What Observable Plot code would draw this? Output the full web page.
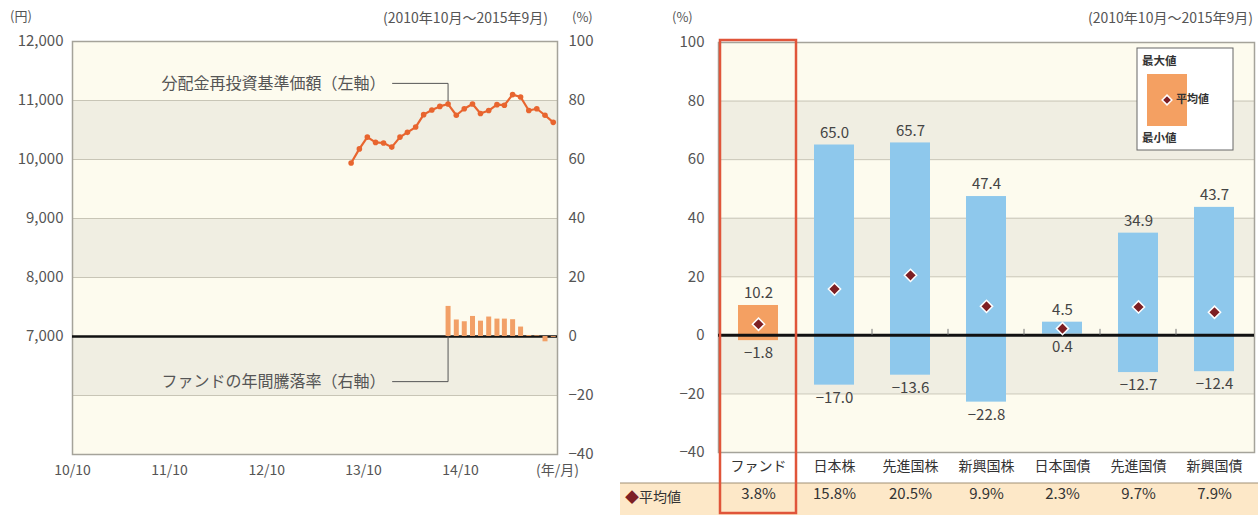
<!DOCTYPE html>
<html><head><meta charset="utf-8">
<script src="https://cdn.jsdelivr.net/npm/d3@7"></script>
<script src="https://cdn.jsdelivr.net/npm/@observablehq/plot@0.6"></script>
<style>
body{margin:0;background:#fff;font-family:"Noto Sans CJK JP","Noto Sans",sans-serif;}
#wrap{position:relative;width:1258px;height:515px;overflow:hidden;background:#fff;}
#left{position:absolute;left:0;top:0;}
#right{position:absolute;left:615px;top:0;}
.lbl{position:absolute;color:#555;font-size:14px;line-height:1;white-space:nowrap;}
</style></head><body><div id="wrap"><div id="left"></div><div id="right"></div>
<div class="lbl" style="left:10px;top:9px;font-size:13px;">(円)</div>
<div class="lbl" style="right:710px;top:10px;">(2010年10月～2015年9月)</div>
<div class="lbl" style="left:572px;top:10px;font-size:13px;">(%)</div>
<div class="lbl" style="left:672px;top:10px;font-size:13px;">(%)</div>
<div class="lbl" style="right:5px;top:10px;">(2010年10月～2015年9月)</div>
</div>
<script>
// ---------- data: left chart ----------
const navMonths = ["2013-08","2013-09","2013-10","2013-11","2013-12","2014-01","2014-02","2014-03","2014-04","2014-05","2014-06","2014-07","2014-08","2014-09","2014-10","2014-11","2014-12","2015-01","2015-02","2015-03","2015-04","2015-05","2015-06","2015-07","2015-08","2015-09"];
const navValues = [9940,10180,10380,10290,10280,10210,10380,10460,10550,10760,10840,10900,10940,10750,10860,10940,10780,10830,10930,10920,11100,11060,10830,10860,10750,10630];
const retMonths = ["2014-08","2014-09","2014-10","2014-11","2014-12","2015-01","2015-02","2015-03","2015-04","2015-05","2015-06","2015-07","2015-08","2015-09"];
const retValues = [10.2,5.6,5.0,6.8,5.2,6.6,5.9,5.9,5.7,3.2,0.3,0.2,-1.8,-0.3];
const xTickMonths = ["2010-10","2011-10","2012-10","2013-10","2014-10","2015-10"];
const leftTicks = [7000,8000,9000,10000,11000,12000];
const rightTickPct = [-40,-20,0,20,40,60,80,100];
const annotations = [
  {text:"分配金再投資基準価額（左軸）", anchor:"2014-08", textAt:"2014-01-18", levelValue:11290, targetValue:10940},
  {text:"ファンドの年間騰落率（右軸）", anchor:"2014-08", textAt:"2014-01-18", levelPct:-15.3, targetPct:0}
];

// ---------- data: right chart ----------
const cats = ["ファンド","日本株","先進国株","新興国株","日本国債","先進国債","新興国債"];
const maxV = [10.2,65.0,65.7,47.4,4.5,34.9,43.7];
const minV = [-1.8,-17.0,-13.6,-22.8,0.4,-12.7,-12.4];
const avgV = [3.8,15.8,20.5,9.9,2.3,9.7,7.9];

// ---------- helpers ----------
const FONT = '"Noto Sans CJK JP","Noto Sans",sans-serif';
const LIGHT = "#fdfbee", DARK = "#f0eee2", GRID = "#c8c5b6", FRAME = "#a5a39a";
const mid = m => new Date(m + "-15T00:00:00Z");
const first = m => new Date(m + "-01T00:00:00Z");
const toL = p => 7000 + p * 50;          // % (right axis) -> 円 (left axis)
const fromL = v => (v - 7000) / 50;

const nav = navMonths.map((m,i)=>({date:mid(m), v:navValues[i]}));
const rets = retMonths.map((m,i)=>({date:mid(m), v:retValues[i]}));
const leftBands = d3.range(5000,12000,1000).map((d,i)=>({lo:d, hi:d+1000, light: i%2===0}));

const annLines = [], annTexts = [];
annotations.forEach((a,k)=>{
  const lvl = a.levelValue ?? toL(a.levelPct);
  const tgt = a.targetValue ?? toL(a.targetPct);
  const tx = new Date(a.textAt+"T00:00:00Z");
  [[tx, lvl],[mid(a.anchor), lvl],[mid(a.anchor), tgt]]
    .forEach(p=>annLines.push({k, x:p[0], y:p[1]}));
  annTexts.push({x:tx, y:lvl, text:a.text});
});

const leftPlot = Plot.plot({
  width:615, height:515,
  marginLeft:72, marginRight:58, marginTop:41, marginBottom:61,
  x:{type:"utc", domain:[first("2010-10"), first("2015-10")], label:null},
  y:{domain:[5000,12000], label:null},
  style:{fontFamily:FONT, fontSize:"15px", color:"#555", background:"transparent", overflow:"visible"},
  marks:[
    Plot.rect(leftBands.filter(d=>d.light), {y1:"lo", y2:"hi", fill:LIGHT}),
    Plot.rect(leftBands.filter(d=>!d.light), {y1:"lo", y2:"hi", fill:DARK}),
    Plot.ruleY(d3.range(6000,12000,1000), {stroke:GRID, strokeWidth:1}),
    Plot.frame({stroke:FRAME, strokeWidth:1.5}),
    Plot.ruleY([7000], {stroke:"#111", strokeWidth:2.5}),
    Plot.ruleX(rets, {x:"date", y1:7000, y2:d=>toL(d.v), stroke:"#f2a067", strokeWidth:5}),
    Plot.line(annLines, {x:"x", y:"y", z:"k", stroke:"#555", strokeWidth:1}),
    Plot.text(annTexts, {x:"x", y:"y", text:"text", textAnchor:"end", dx:-7, fontSize:16, fill:"#555"}),
    Plot.line(nav, {x:"date", y:"v", stroke:"#e8652f", strokeWidth:2.2}),
    Plot.dot(nav, {x:"date", y:"v", r:2.8, fill:"#e8652f"}),
    Plot.axisY({ticks:leftTicks, tickFormat:d3.format(","), tickSize:0, tickPadding:9, fontSize:15, label:null}),
    Plot.axisY({anchor:"right", ticks:rightTickPct.map(toL), tickFormat:d=>d3.format("d")(fromL(d)), tickSize:0, tickPadding:11, fontSize:15, label:null}),
    Plot.axisX({ticks:xTickMonths.map(first), tickFormat:d=>d.getUTCFullYear()===2015 ? "(年/月)" : d3.utcFormat("%y/%m")(d), tickSize:0, tickPadding:11, fontSize:14, label:null})
  ]
});
document.getElementById("left").append(leftPlot);

// ---------- right chart ----------
const rows = cats.map((c,i)=>({cat:c, max:maxV[i], min:minV[i], avg:avgV[i]}));
const rightBands = d3.range(-40,100,20).map((d,i)=>({lo:d, hi:d+20, light:i%2===0}));
const f1 = d3.format(".1f");
const rightPlot = Plot.plot({
  width:643, height:515,
  marginLeft:103, marginRight:4, marginTop:42, marginBottom:63,
  x:{domain:cats, paddingInner:0.48, paddingOuter:0.24, label:null},
  y:{domain:[-40,100], label:null},
  style:{fontFamily:FONT, fontSize:"15px", color:"#555", background:"transparent", overflow:"visible"},
  marks:[
    Plot.rect(rightBands.filter(d=>d.light), {y1:"lo", y2:"hi", fill:LIGHT}),
    Plot.rect(rightBands.filter(d=>!d.light), {y1:"lo", y2:"hi", fill:DARK}),
    Plot.ruleY(d3.range(-20,100,20), {stroke:GRID, strokeWidth:1}),
    Plot.frame({stroke:FRAME, strokeWidth:1.5}),
    Plot.barY(rows.filter(d=>d.cat==="ファンド"), {x:"cat", y1:"min", y2:"max", fill:"#f4a062"}),
    Plot.barY(rows.filter(d=>d.cat!=="ファンド"), {x:"cat", y1:"min", y2:"max", fill:"#8ec8ec"}),
    Plot.ruleY([0], {stroke:"#111", strokeWidth:3}),
    Plot.dot(rows, {x:"cat", y:"avg", symbol:"diamond2", r:5.5, fill:"#7d1f24", stroke:"#fff", strokeWidth:1.5}),
    Plot.text(rows, {x:"cat", y:"max", text:d=>f1(d.max), dy:-12, fontSize:15, fill:"#444"}),
    Plot.text(rows, {x:"cat", y:"min", text:d=>f1(d.min), dy:13, fontSize:15, fill:"#444"}),
    Plot.text(rows, {x:"cat", text:d=>f1(d.avg)+"%", frameAnchor:"bottom", dy:46, fontSize:15, fill:"#333"}),
    Plot.axisY({ticks:rightTickPct, tickSize:0, tickPadding:14, fontSize:15, label:null}),
    Plot.axisX({tickSize:0, tickPadding:9, fontSize:14, color:"#333", label:null})
  ]
});
document.getElementById("right").append(rightPlot);

// decorations drawn from the plot's own scales
(function(){
  const svg = d3.select(rightPlot);
  const xs = rightPlot.scale("x"), ys = rightPlot.scale("y");
  const gap = xs.step - xs.bandwidth;
  const bandL = c => xs.apply(c) - gap/2;
  const y0 = ys.apply(0), yTop = ys.apply(100), yBot = ys.apply(-40);
  const W = 643, H = 515;
  // table row background
  svg.insert("rect","g").attr("x",5).attr("y",yBot+31).attr("width",W-5).attr("height",H-(yBot+31))
     .attr("fill","#fde8c8");
  svg.insert("line","g").attr("x1",5).attr("x2",W).attr("y1",yBot+31).attr("y2",yBot+31)
     .attr("stroke","#a08f75").attr("stroke-width",1);
  // row header
  const t = svg.append("text").attr("x",10).attr("y",yBot+46).attr("dominant-baseline","middle")
     .attr("text-anchor","start").attr("font-size",14).attr("font-family",FONT);
  t.append("tspan").attr("fill","#7d1f24").text("◆");
  t.append("tspan").attr("fill","#333").text("平均値");
  // boundary ticks on zero line
  cats.slice(1).forEach(c=>{
    svg.append("line").attr("x1",bandL(c)).attr("x2",bandL(c)).attr("y1",y0-6).attr("y2",y0)
       .attr("stroke","#777").attr("stroke-width",1);
  });
  // highlight box around the fund column
  svg.append("rect").attr("x",bandL(cats[0])).attr("y",yTop-2).attr("width",xs.step)
     .attr("height",H-2-(yTop-2)).attr("fill","none").attr("stroke","#e0553a").attr("stroke-width",2.5);
  // legend
  const g = svg.append("g").attr("font-family",FONT).attr("font-size",11.5).attr("fill","#333")
     .attr("font-weight",700).attr("text-anchor","start");
  const lx = xs.apply(cats[6]) + xs.bandwidth - 97, ly = yTop + 6;
  g.append("rect").attr("x",lx).attr("y",ly).attr("width",96).attr("height",102).attr("fill","#fff").attr("stroke","#666").attr("stroke-width",1);
  g.append("text").attr("x",lx+5).attr("y",ly+14).attr("dominant-baseline","middle").text("最大値");
  g.append("rect").attr("x",lx+10).attr("y",ly+26).attr("width",40).attr("height",52).attr("fill","#f4a062");
  g.append("path").attr("d",d3.symbol(d3.symbolDiamond2, 60)()).attr("transform",`translate(${lx+30},${ly+52})`)
     .attr("fill","#7d1f24").attr("stroke","#fff").attr("stroke-width",1.5);
  g.append("text").attr("x",lx+39).attr("y",ly+52).attr("dominant-baseline","middle").attr("font-size",11).text("平均値");
  g.append("text").attr("x",lx+5).attr("y",ly+91).attr("dominant-baseline","middle").text("最小値");
})();
</script></body></html>
